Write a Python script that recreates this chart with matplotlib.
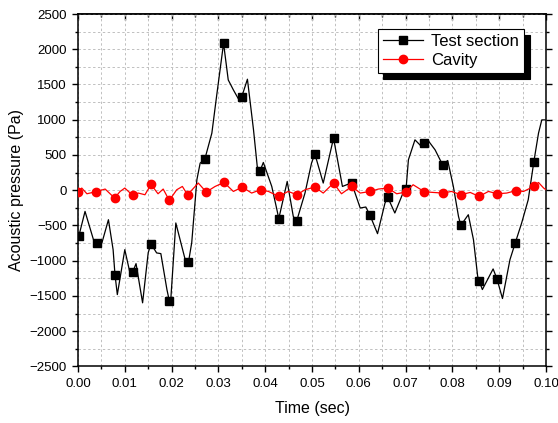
import matplotlib
matplotlib.use("Agg")
import matplotlib.pyplot as plt
from matplotlib.lines import Line2D
from matplotlib.ticker import MultipleLocator, FormatStrFormatter

plt.rcParams['font.family'] = ['Liberation Sans', 'DejaVu Sans']

# Test section: curve (time in s, pressure in Pa)
test_t = [0.0002, 0.0015, 0.0033, 0.0040, 0.0051, 0.0065, 0.0075, 0.0079, 0.0084,
          0.0100, 0.0111, 0.0117, 0.0124, 0.0138, 0.0150, 0.0156, 0.0168, 0.0177,
          0.0190, 0.0195, 0.0198, 0.0209, 0.0229, 0.0236, 0.0243, 0.0254, 0.0261,
          0.0271, 0.0286, 0.0296, 0.0311, 0.0321, 0.0332, 0.0344, 0.0350, 0.0362,
          0.0375, 0.0383, 0.0389, 0.0396, 0.0414, 0.0425, 0.0429, 0.0447, 0.0460,
          0.0467, 0.0485, 0.0499, 0.0506, 0.0524, 0.0546, 0.0565, 0.0585, 0.0592,
          0.0603, 0.0615, 0.0624, 0.0640, 0.0656, 0.0662, 0.0677, 0.0695, 0.0701,
          0.0706, 0.0720, 0.0734, 0.0740, 0.0747, 0.0763, 0.0779, 0.0790, 0.0802,
          0.0813, 0.0818, 0.0834, 0.0845, 0.0854, 0.0857, 0.0864, 0.0887, 0.0895,
          0.0907, 0.0923, 0.0934, 0.0948, 0.0962, 0.0974, 0.0984, 0.0991, 0.0998]
test_p = [-644, -300, -701, -748, -748, -418, -843, -1197, -1480,
          -843, -1172, -1158, -1041, -1597, -885, -762, -889, -899,
          -1409, -1565, -1575, -464, -984, -1022, -743, 149, 385,
          442, 810, 1328, 2084, 1565, 1423, 1281, 1328, 1575,
          857, 337, 276, 394, 54, -276, -404, 125, -371,
          -442, -40, 385, 517, 102, 739, 54, 106, -40,
          -252, -238, -357, -616, -181, -102, -323, -30, 21,
          432, 715, 620, 677, 715, 573, 361, 422, 54,
          -371, -498, -347, -701, -1221, -1281, -1409, -1116, -1253,
          -1536, -984, -753, -464, -135, 404, 810, 998, 998]

# Test section: square markers
test_mark_t = [0.0002, 0.0040, 0.0079, 0.0117, 0.0156, 0.0195, 0.0236, 0.0271, 0.0311,
               0.0350, 0.0389, 0.0429, 0.0467, 0.0506, 0.0546, 0.0585, 0.0624, 0.0662,
               0.0701, 0.0740, 0.0779, 0.0818, 0.0857, 0.0895, 0.0934, 0.0974]
test_mark_p = [-644, -748, -1197, -1158, -762, -1565, -1022, 442, 2084,
               1328, 276, -404, -442, 517, 739, 106, -357, -102,
               21, 677, 361, -498, -1281, -1253, -753, 404]

# Cavity: curve
cav_t = [0.0000, 0.0008, 0.0019, 0.0038, 0.0058, 0.0078, 0.0090, 0.0100, 0.0117,
         0.0129, 0.0143, 0.0156, 0.0171, 0.0182, 0.0195, 0.0211, 0.0223, 0.0234,
         0.0257, 0.0274, 0.0293, 0.0312, 0.0332, 0.0351, 0.0371, 0.0390, 0.0407,
         0.0429, 0.0449, 0.0468, 0.0485, 0.0506, 0.0524, 0.0546, 0.0563, 0.0585,
         0.0603, 0.0624, 0.0642, 0.0662, 0.0681, 0.0701, 0.0716, 0.0740, 0.0759,
         0.0779, 0.0798, 0.0818, 0.0838, 0.0857, 0.0877, 0.0896, 0.0916, 0.0935,
         0.0952, 0.0974, 0.0984, 0.0995, 0.1000]
cav_p = [-31, 31, -50, -21, 17, -110, -17, 31, -74,
         -40, -64, 82, -50, 17, -144, 7, 54, -64,
         102, -25, 54, 110, -17, 45, -40, 7, -17,
         -88, -17, -64, 7, 45, -40, 102, -50, 54,
         -40, -17, 17, 31, -50, -25, 78, -21, -31,
         -40, -17, -64, -31, -88, -17, -50, -40, -7,
         -17, 54, 110, 31, 7]

# Cavity: circle markers
cav_mark_t = [0.0000, 0.0038, 0.0078, 0.0117, 0.0156, 0.0195, 0.0234, 0.0274, 0.0312,
              0.0351, 0.0390, 0.0429, 0.0468, 0.0506, 0.0546, 0.0585, 0.0624, 0.0662,
              0.0701, 0.0740, 0.0779, 0.0818, 0.0857, 0.0896, 0.0935, 0.0974]
cav_mark_p = [-31, -21, -110, -74, 82, -144, -64, -25, 110,
              45, 7, -88, -64, 45, 102, 54, -17, 31,
              -25, -21, -40, -64, -88, -50, -7, 54]

fig = plt.figure(figsize=(5.58, 4.23), dpi=100)
ax = fig.add_axes([0.1398, 0.1336, 0.8387, 0.8333])

ax.plot(test_t, test_p, color='black', lw=0.9, zorder=3)
ax.plot(test_mark_t, test_mark_p, ls='none', marker='s', ms=5.5, color='black', zorder=4)
ax.plot(cav_t, cav_p, color='#ff0000', lw=0.9, zorder=5)
ax.plot(cav_mark_t, cav_mark_p, ls='none', marker='o', ms=6, color='#ff0000', zorder=6)

ax.set_xlim(0, 0.1)
ax.set_ylim(-2500, 2500)
ax.xaxis.set_major_locator(MultipleLocator(0.01))
ax.xaxis.set_minor_locator(MultipleLocator(0.005))
ax.xaxis.set_major_formatter(FormatStrFormatter('%.2f'))
ax.yaxis.set_major_locator(MultipleLocator(500))
ax.yaxis.set_minor_locator(MultipleLocator(250))

ax.grid(True, which='both', color='#c0c0c0', ls=(0, (2.5, 2.5)), lw=0.7, zorder=0)
ax.set_axisbelow(True)

for s in ax.spines.values():
    s.set_linewidth(1.1)

ax.tick_params(axis='both', which='major', direction='out', length=4.5, width=1, labelsize=9.5)
ax.tick_params(axis='both', which='minor', direction='out', length=2.5, width=1)
ax.tick_params(axis='y', which='both', right=True)

top = ax.secondary_xaxis('top')
top.xaxis.set_major_locator(MultipleLocator(0.01))
top.xaxis.set_minor_locator(MultipleLocator(0.005))
top.tick_params(which='major', direction='in', length=4.5, width=1, labeltop=False)
top.tick_params(which='minor', direction='in', length=2.5, width=1)
top.spines['top'].set_linewidth(1.1)

ax.set_xlabel('Time (sec)', fontsize=11.5, labelpad=8)
ax.set_ylabel('Acoustic pressure (Pa)', fontsize=11.5, labelpad=4)

handles = [Line2D([], [], color='black', lw=0.9, marker='s', ms=5.5),
           Line2D([], [], color='#ff0000', lw=0.9, marker='o', ms=6)]
leg = ax.legend(handles, ['Test section', 'Cavity'], loc='upper right',
                bbox_to_anchor=(0.953, 0.957), borderaxespad=0, fontsize=12,
                fancybox=False, framealpha=1, edgecolor='black',
                shadow={'color': 'black', 'alpha': 1, 'ox': 4, 'oy': -4},
                handlelength=2.4, borderpad=0.3, labelspacing=0.25, handletextpad=0.5)
leg.get_frame().set_linewidth(0.8)

fig.savefig('out.png', dpi=100)
